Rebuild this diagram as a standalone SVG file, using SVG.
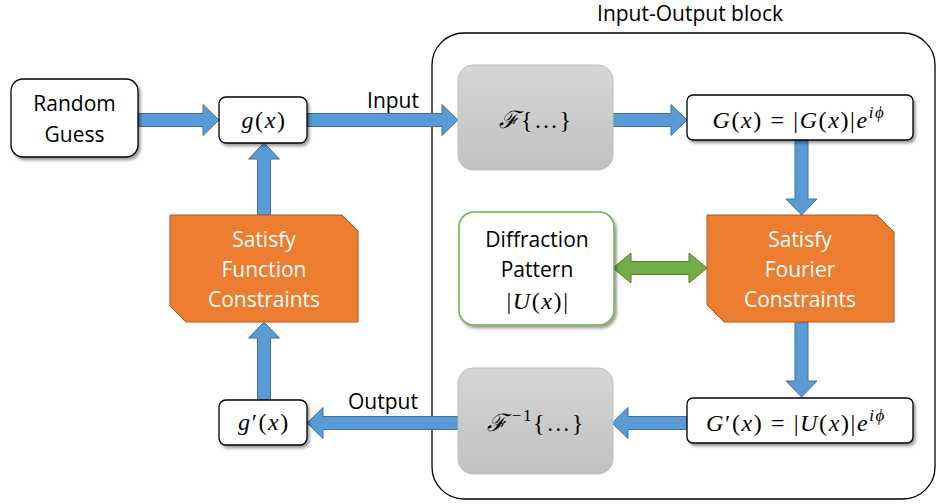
<svg xmlns="http://www.w3.org/2000/svg" width="936" height="504" viewBox="0 0 936 504">
<defs>
<filter id="sh" x="-10%" y="-10%" width="130%" height="140%">
<feDropShadow dx="2" dy="2.5" stdDeviation="1.5" flood-color="#000" flood-opacity="0.4"/>
</filter>
<linearGradient id="gray" x1="0" y1="0" x2="0" y2="1">
<stop offset="0" stop-color="#d6d6d6"/>
<stop offset="1" stop-color="#c1c1c1"/>
</linearGradient>
</defs>
<style>
.t{font-family:"Open Sans","Liberation Sans",sans-serif;font-size:21px;fill:#000;text-anchor:middle}
.w{fill:#fff}
.m{font-family:"Liberation Serif","DejaVu Serif",serif;font-size:24px;letter-spacing:1.6px;fill:#000;text-anchor:middle}
.i{font-style:italic}
.box{fill:#fff;stroke:#000;stroke-width:1.3;filter:url(#sh)}
.fbox{fill:url(#gray);stroke:#bdbdbd;stroke-width:1}
.org{fill:#ED7D31;stroke:#AE5A21;stroke-width:1}
.blue{fill:#5B9BD5;stroke:#41719C;stroke-width:1}
.green{fill:#70AD47;stroke:#507E32;stroke-width:1}
</style>
<g id="io-block">
<rect x="432" y="33" width="503" height="466" rx="32" fill="none" stroke="#000" stroke-width="1.3"/>
<text class="t" x="690" y="21">Input-Output block</text>
</g>
<g id="connectors">
<polygon class="blue" points="138,113.5 203,113.5 203,104.5 219,120 203,135.5 203,126.5 138,126.5"/>
<polygon class="blue" points="307,113.5 442,113.5 442,104.5 458,120 442,135.5 442,126.5 307,126.5"/>
<polygon class="blue" points="612,113.5 671,113.5 671,104.5 687,120 671,135.5 671,126.5 612,126.5"/>
<polygon class="blue" points="795,140 795,199 786,199 801.5,215 817,199 808,199 808,140"/>
<polygon class="blue" points="795,322 795,381 786,381 801.5,397 817,381 808,381 808,322"/>
<polygon class="blue" points="687,416.5 628,416.5 628,407.5 612,423 628,438.5 628,429.5 687,429.5"/>
<polygon class="blue" points="458,416.5 323,416.5 323,407.5 307,423 323,438.5 323,429.5 458,429.5"/>
<polygon class="blue" points="257.5,400 257.5,338 248.5,338 264,322 279.5,338 270.5,338 270.5,400"/>
<polygon class="blue" points="257.5,215 257.5,159 248.5,159 264,143 279.5,159 270.5,159 270.5,215"/>
<polygon class="green" points="613,268 631,253 631,261.5 689,261.5 689,253 707,268 689,283 689,274.5 631,274.5 631,283"/>
<text class="t" x="393" y="108">Input</text>
<text class="t" x="383" y="409">Output</text>
</g>
<g id="random-guess">
<rect class="box" x="11" y="79" width="127" height="78" rx="12"/>
<text class="t" x="74.5" y="111">Random</text>
<text class="t" x="74.5" y="142">Guess</text>
</g>
<g id="gx">
<rect class="box" x="219" y="97" width="88" height="46" rx="7"/>
<text class="m" x="264" y="128"><tspan class="i">g</tspan>(<tspan class="i">x</tspan>)</text>
</g>
<g id="fourier">
<rect class="fbox" x="458" y="65" width="155" height="105" rx="15"/>
<text class="m" x="536" y="128"><tspan class="i">ℱ</tspan>{…}</text>
</g>
<g id="Gx">
<rect class="box" x="687" y="95" width="226" height="45" rx="6"/>
<text class="m" x="799" y="128"><tspan class="i">G</tspan>(<tspan class="i">x</tspan>) = |<tspan class="i">G</tspan>(<tspan class="i">x</tspan>)|<tspan class="i">e</tspan><tspan class="i" dy="-10" font-size="17">iϕ</tspan></text>
</g>
<g id="satisfy-fourier">
<path class="org" d="M707,215 H877 L894,232 V322 H724 L707,305 Z"/>
<text class="t w" x="800" y="247">Satisfy</text>
<text class="t w" x="800" y="277">Fourier</text>
<text class="t w" x="800" y="307">Constraints</text>
</g>
<g id="diffraction">
<rect x="459" y="212" width="155" height="113" rx="15" fill="#fff" stroke="#70AD47" stroke-width="1.5" filter="url(#sh)"/>
<text class="t" x="537" y="247">Diffraction</text>
<text class="t" x="537" y="277">Pattern</text>
<text class="m" x="538" y="309">|<tspan class="i">U</tspan>(<tspan class="i">x</tspan>)|</text>
</g>
<g id="Gpx">
<rect class="box" x="687" y="398" width="226" height="45" rx="6"/>
<text class="m" x="796" y="431"><tspan class="i">G</tspan>′(<tspan class="i">x</tspan>) = |<tspan class="i">U</tspan>(<tspan class="i">x</tspan>)|<tspan class="i">e</tspan><tspan class="i" dy="-10" font-size="17">iϕ</tspan></text>
</g>
<g id="inverse-fourier">
<rect class="fbox" x="458" y="368" width="155" height="106" rx="15"/>
<text class="m" x="536" y="431"><tspan class="i">ℱ</tspan><tspan dx="3" dy="-10" font-size="17">−1</tspan><tspan dy="10">{…}</tspan></text>
</g>
<g id="gpx">
<rect class="box" x="219" y="400" width="88" height="45" rx="7"/>
<text class="m" x="264" y="430"><tspan class="i">g</tspan>′(<tspan class="i">x</tspan>)</text>
</g>
<g id="satisfy-function">
<path class="org" d="M170,215 H342 L358,231 V322 H186 L170,306 Z"/>
<text class="t w" x="264" y="247">Satisfy</text>
<text class="t w" x="264" y="277">Function</text>
<text class="t w" x="264" y="307">Constraints</text>
</g>
</svg>
